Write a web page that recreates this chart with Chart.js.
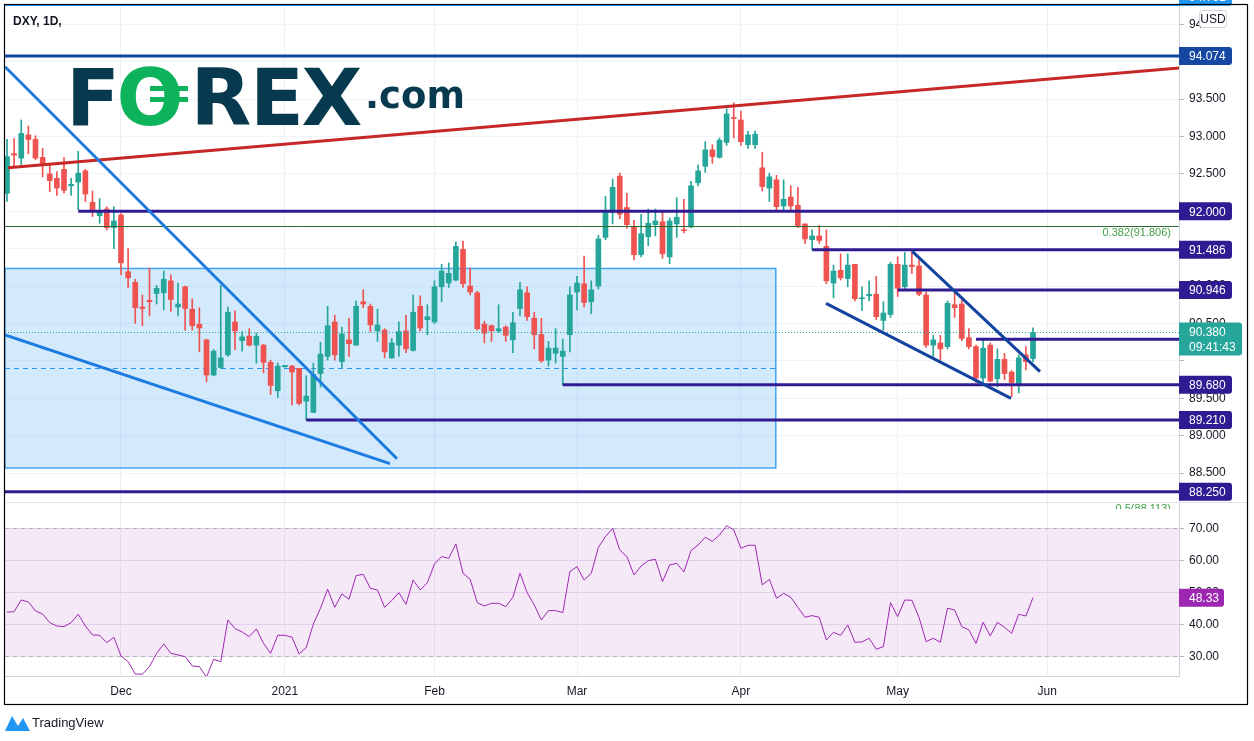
<!DOCTYPE html>
<html lang="en">
<head>
<meta charset="UTF-8">
<title>DXY, 1D</title>
<style>
  html, body { margin: 0; padding: 0; background: #fff; }
  canvas { display: block; }
</style>
</head>
<body>
<canvas id="dxy" width="1254" height="741"></canvas>

<script src="https://cdn.jsdelivr.net/npm/chart.js"></script>
<script>
// Daily candles, Nov 9 2020 .. May 28 2021 (index = trading day)
const opens = [92.24,92.77,92.71,93.02,92.96,92.72,92.50,92.44,92.56,92.34,92.39,92.54,92.12,91.94,92.03,91.78,91.95,91.19,91.05,90.72,
  90.81,90.90,90.91,91.07,90.72,90.99,90.69,90.49,90.28,89.81,89.91,90.08,90.52,90.27,90.33,90.21,90.21,89.98,89.60,89.92,
  89.93,89.90,89.46,89.31,89.83,90.06,90.52,89.99,90.28,90.21,90.79,90.73,90.40,90.41,90.04,90.21,90.40,90.14,90.73,90.55,
  90.52,90.99,91.04,91.08,91.49,91.00,90.91,90.49,90.47,90.40,90.45,90.28,90.70,90.91,90.57,90.35,90.01,90.10,90.06,90.35,
  90.92,91.03,90.79,91.00,91.65,91.98,92.47,92.05,91.79,91.42,91.66,91.82,91.86,91.39,91.83,91.75,91.79,92.38,92.60,92.82,
  92.72,92.92,93.25,93.22,92.89,92.89,92.58,92.31,92.42,92.07,92.19,92.08,91.83,91.62,91.67,91.53,91.04,91.21,91.10,91.29,
  90.83,90.87,90.89,90.54,90.62,91.29,90.99,91.28,91.27,90.88,90.21,90.24,90.19,90.75,90.76,90.31,90.19,89.77,90.21,89.76,
  90.02,89.85,89.70,90.08,90.03];
const highs = [92.96,92.97,93.22,93.14,93.01,92.84,92.62,92.53,92.72,92.44,92.80,92.56,92.27,92.17,92.06,92.06,91.97,91.50,91.09,90.88,
  91.24,91.01,91.20,91.15,91.04,91.00,90.83,90.71,90.29,90.15,91.01,90.72,90.67,90.39,90.43,90.37,90.22,90.01,89.97,89.94,
  89.94,89.90,89.80,89.97,90.25,90.73,90.61,90.45,90.57,90.80,90.95,90.76,90.69,90.43,90.30,90.52,90.61,90.88,90.87,90.75,
  91.07,91.29,91.31,91.59,91.60,91.24,90.93,90.53,90.48,90.75,90.47,90.65,91.05,90.99,90.65,90.57,90.26,90.43,90.29,90.99,
  91.13,91.40,91.07,91.68,92.20,92.43,92.51,92.24,91.88,91.96,92.03,92.03,92.00,91.91,92.18,92.16,92.40,92.62,92.93,92.89,
  92.98,93.37,93.45,93.34,93.07,93.07,92.79,92.51,92.48,92.42,92.34,92.32,91.83,91.75,91.81,91.75,91.28,91.43,91.43,91.29,
  90.99,91.07,91.13,90.79,91.32,91.39,91.45,91.46,91.35,90.92,90.34,90.34,90.80,90.91,90.81,90.43,90.21,90.28,90.24,90.16,
  90.10,89.87,90.08,90.19,90.44];
const lows = [92.13,92.60,92.62,92.77,92.69,92.46,92.26,92.21,92.24,92.21,92.02,92.13,91.93,91.84,91.75,91.50,91.15,90.98,90.50,90.47,
  90.60,90.76,90.68,90.66,90.60,90.41,90.41,90.12,89.72,89.80,89.90,90.06,90.15,90.13,90.20,89.97,89.84,89.55,89.51,89.92,
  89.41,89.41,89.21,89.31,89.65,90.01,90.01,89.91,90.06,90.21,90.71,90.39,90.26,90.04,90.03,90.06,90.11,90.13,90.40,90.35,
  90.50,90.79,90.98,91.07,90.98,90.88,90.41,90.24,90.26,90.38,90.26,90.11,90.60,90.54,90.16,89.98,89.93,89.97,89.68,90.12,
  90.68,90.72,90.63,90.96,91.62,91.83,91.90,91.77,91.35,91.39,91.54,91.67,91.37,91.30,91.65,91.71,91.78,92.34,92.52,92.64,
  92.71,92.88,92.98,92.88,92.84,92.84,92.27,92.13,91.99,92.02,92.01,91.78,91.57,91.49,91.57,91.03,90.84,91.08,90.99,90.80,
  90.67,90.80,90.55,90.41,90.58,90.86,90.96,91.17,90.87,90.18,90.06,90.01,90.16,90.58,90.27,90.16,89.71,89.71,89.72,89.65,
  89.75,89.52,89.57,89.88,89.99];
const closes = [92.73,92.75,93.04,92.96,92.71,92.63,92.41,92.31,92.28,92.36,92.51,92.23,91.99,92.00,91.78,91.87,91.31,91.11,90.71,90.70,
  90.79,90.97,91.09,90.82,90.76,90.70,90.47,90.44,89.81,90.13,90.04,90.65,90.40,90.32,90.21,90.33,89.98,89.67,89.93,89.94,
  89.85,89.43,89.53,89.82,90.09,90.47,90.08,90.36,90.23,90.73,90.76,90.48,90.48,90.12,90.24,90.39,90.16,90.65,90.44,90.59,
  90.99,91.20,91.17,91.53,91.03,90.92,90.43,90.37,90.40,90.43,90.34,90.51,90.95,90.59,90.35,90.00,90.17,90.17,90.13,90.88,
  91.04,90.78,90.95,91.63,91.98,92.32,91.96,91.82,91.42,91.70,91.84,91.87,91.43,91.87,91.92,91.74,92.34,92.54,92.82,92.73,
  92.95,93.30,93.24,92.93,93.02,93.03,92.33,92.46,92.06,92.16,92.07,91.81,91.63,91.67,91.61,91.07,91.20,91.11,91.28,90.83,
  90.84,90.89,90.59,90.64,91.29,90.97,91.28,91.26,90.89,90.21,90.28,90.16,90.77,90.71,90.30,90.19,89.77,90.17,89.73,90.02,
  89.83,89.71,90.04,89.99,90.38];

// RSI(14), one value per candle
const rsi = [43.75,43.96,47.6,46.98,44.17,43.23,40.52,39.48,39.27,40.52,43.13,39.48,36.67,36.56,34.27,35.94,30.1,28.33,24.48,24.38,
  26.77,30.94,33.85,30.94,30.42,29.9,26.98,26.77,23.5,29.06,28.33,41.35,38.65,37.6,36.15,38.54,34.06,30.94,36.56,36.56,
  35.94,30.73,32.71,40.1,45.0,50.94,45.31,49.48,47.81,55.21,55.63,51.25,50.73,45.31,47.4,49.9,46.25,53.85,50.73,53.02,
  58.85,61.15,60.63,65.1,55.94,54.06,46.77,45.73,46.56,46.56,45.52,48.44,55.94,49.9,46.04,41.35,44.27,44.27,43.65,56.46,
  58.02,53.85,55.94,64.06,67.4,70.0,63.23,61.15,55.42,58.23,59.9,60.31,53.33,58.54,59.06,56.35,63.02,64.79,67.19,65.94,
  67.92,70.83,69.48,63.75,64.69,64.69,52.29,54.06,48.13,49.69,48.44,45.31,42.19,42.71,42.19,35.1,37.5,36.56,39.79,34.38,
  34.48,35.63,32.19,33.02,46.77,42.4,47.6,47.5,42.19,34.58,35.63,34.38,45.0,44.48,39.27,38.23,34.06,40.63,36.35,40.63,
  39.06,37.19,43.13,42.6,48.33];

// time axis: index of first trading day of each month
const monthIdx = [16, 39, 60, 80, 103, 125, 146];
const monthLbl = ['Dec', '2021', 'Feb', 'Mar', 'Apr', 'May', 'Jun'];
// right axis ticks
const priceTicks = [88.5, 89.0, 89.5, 90.0, 90.5, 91.0, 91.5, 92.0, 92.5, 93.0, 93.5, 94.0, 94.5];
const rsiTicks = [30, 40, 50, 60, 70];

// drawn levels (price) and the candle index where each one starts
const levels    = [94.074, 92.000, 91.486, 90.946, 90.290, 89.680, 89.210, 88.250];
const levelFrom = [null,   10,     113,    125,    136,    78,     42,     null];
const lastPrice = 90.380;
const topLevel = 94.761;
const fibLevels = [91.806, 88.113];
const fibLbl = ['0.382(91.806)', '0.5(88.113)'];
const rsiBand = [30, 70];

// trend lines: [index, price] -> [index, price]
const redLine   = [[0.14, 92.58], [164.49, 93.914]];
const blueLines = [[[-0.28, 93.932], [54.74, 88.692]], [[-0.28, 90.345], [53.75, 88.627]]];
const wedge     = [[[127.06, 91.464], [144.98, 89.855]], [[114.95, 90.769], [140.91, 89.499]]];
// shaded range box
const boxEnd = 107.9;
const boxTop = 91.235, boxBot = 88.567, boxMid = 89.90;

const FONT = '"Liberation Sans", Arial, sans-serif';
const UP = '#26a69a', DOWN = '#ef5350';
const INDIGO = '#311b92';

const idx = opens.map((_, i) => i);
const candleCol = idx.map(i => closes[i] >= opens[i] ? UP : DOWN);

function tag(ctx, x, yc, w, h, bg, lines) {
  ctx.fillStyle = bg;
  ctx.beginPath();
  ctx.roundRect(x, yc - h / 2, w, h, [0, 3, 3, 0]);
  ctx.fill();
  ctx.fillStyle = '#fff';
  ctx.font = '12px ' + FONT;
  ctx.textAlign = 'left';
  ctx.textBaseline = 'middle';
  lines.forEach((t, k) => ctx.fillText(t, x + 10, yc - (lines.length - 1) * 7.5 + k * 15 + 1));
}

// no extra label padding, so the panes sit exactly in the chart area
function fixAxis(s, w) {
  s.width = w;
  s.paddingTop = 0;
  s.paddingBottom = 0;
}

const overlay = {
  id: 'overlay',
  beforeDatasetsDraw(chart) {
    const { ctx, chartArea: a, scales: { x, y, rsi: r } } = chart;
    ctx.save();
    // rsi band
    const b1 = r.getPixelForValue(rsiBand[1]), b0 = r.getPixelForValue(rsiBand[0]);
    ctx.fillStyle = 'rgba(156,39,176,0.10)';
    ctx.fillRect(a.left, b1, a.right - a.left, b0 - b1);
    ctx.strokeStyle = '#b2b5be';
    ctx.setLineDash([4, 4]);
    ctx.lineWidth = 1;
    [b1, b0].forEach(v => {
      ctx.beginPath(); ctx.moveTo(a.left, Math.round(v) + 0.5); ctx.lineTo(a.right, Math.round(v) + 0.5); ctx.stroke();
    });
    ctx.setLineDash([]);
    // range box
    const bx1 = x.getPixelForValue(boxEnd);
    const t = y.getPixelForValue(boxTop), bt = y.getPixelForValue(boxBot);
    ctx.fillStyle = 'rgba(33,150,243,0.2)';
    ctx.fillRect(a.left, t, bx1 - a.left, bt - t);
    ctx.strokeStyle = '#42a5f5';
    ctx.lineWidth = 1.5;
    ctx.strokeRect(a.left, t, bx1 - a.left, bt - t);
    ctx.setLineDash([5, 4]);
    ctx.lineWidth = 1;
    ctx.strokeStyle = '#2196f3';
    const m = Math.round(y.getPixelForValue(boxMid)) + 0.5;
    ctx.beginPath(); ctx.moveTo(a.left, m); ctx.lineTo(bx1, m); ctx.stroke();
    ctx.setLineDash([]);
    ctx.restore();
  },
  afterDatasetsDraw(chart) {
    const { ctx, chartArea: a, scales: { x, y } } = chart;
    const P = (p) => [x.getPixelForValue(p[0]), y.getPixelForValue(p[1])];
    ctx.save();
    ctx.beginPath();
    ctx.rect(a.left, y.top, a.right - a.left, y.bottom - y.top);
    ctx.clip();
    // fib lines
    ctx.strokeStyle = '#2e6b30';
    ctx.lineWidth = 1;
    fibLevels.forEach(v => {
      const py = Math.round(y.getPixelForValue(v)) + 0.5;
      ctx.beginPath(); ctx.moveTo(a.left, py); ctx.lineTo(a.right, py); ctx.stroke();
    });
    // last price dotted
    ctx.strokeStyle = UP;
    ctx.setLineDash([1, 2]);
    const lp = Math.round(y.getPixelForValue(lastPrice)) + 0.5;
    ctx.beginPath(); ctx.moveTo(a.left, lp); ctx.lineTo(a.right, lp); ctx.stroke();
    ctx.setLineDash([]);
    // horizontal levels
    ctx.lineWidth = 3;
    levels.forEach((v, i) => {
      const py = y.getPixelForValue(v);
      const x0 = levelFrom[i] === null ? a.left : x.getPixelForValue(levelFrom[i]);
      ctx.strokeStyle = i === 0 ? '#0d47a1' : INDIGO;
      ctx.beginPath(); ctx.moveTo(x0, py); ctx.lineTo(a.right, py); ctx.stroke();
    });
    // trend lines
    const seg = (s, col) => {
      const p0 = P(s[0]), p1 = P(s[1]);
      ctx.strokeStyle = col;
      ctx.beginPath(); ctx.moveTo(p0[0], p0[1]); ctx.lineTo(p1[0], p1[1]); ctx.stroke();
    };
    seg(redLine, '#c62828');
    blueLines.forEach(s => seg(s, '#1e7be0'));
    wedge.forEach(s => seg(s, '#1343a0'));
    ctx.restore();

    // fib labels
    ctx.save();
    ctx.beginPath();
    ctx.rect(a.left, 0, a.right - a.left, 509);
    ctx.clip();
    ctx.font = '11px ' + FONT;
    ctx.fillStyle = '#43a047';
    ctx.textAlign = 'right';
    ctx.textBaseline = 'middle';
    fibLevels.forEach((v, i) => ctx.fillText(fibLbl[i], 1171, y.getPixelForValue(v) + 7));
    ctx.restore();
  },
  afterDraw(chart) {
    const { ctx, chartArea: a, scales: { y, rsi: r } } = chart;
    ctx.save();
    // top light-blue line
    ctx.strokeStyle = '#2196f3';
    ctx.lineWidth = 2;
    ctx.beginPath(); ctx.moveTo(a.left, 5); ctx.lineTo(a.right, 5); ctx.stroke();
    // pane separator
    ctx.strokeStyle = '#e0e3eb';
    ctx.lineWidth = 1;
    ctx.beginPath(); ctx.moveTo(a.left, Math.round(y.bottom) + 0.5); ctx.lineTo(1248, Math.round(y.bottom) + 0.5); ctx.stroke();

    // price tags on the axis
    const ax = a.right;
    tag(ctx, ax, y.getPixelForValue(topLevel) - 8, 53, 18, '#2196f3', [topLevel.toFixed(3)]);
    levels.forEach((v, i) => tag(ctx, ax, y.getPixelForValue(v), 53, 18, i === 0 ? '#1547a3' : INDIGO, [v.toFixed(3)]));
    tag(ctx, ax, y.getPixelForValue(lastPrice) + 6.5, 63, 33, UP, [lastPrice.toFixed(3), '09:41:43']);
    tag(ctx, ax, r.getPixelForValue(rsi[rsi.length - 1]), 45, 18, '#9c27b0', [rsi[rsi.length - 1].toFixed(2)]);

    // USD badge
    ctx.fillStyle = '#fff';
    ctx.strokeStyle = '#d1d4dc';
    ctx.beginPath(); ctx.roundRect(1199.5, 10.5, 27, 17, 3); ctx.fill(); ctx.stroke();
    ctx.fillStyle = '#131722';
    ctx.font = '12px ' + FONT;
    ctx.textAlign = 'center'; ctx.textBaseline = 'middle';
    ctx.fillText('USD', 1213, 19.5);

    // frame
    ctx.strokeStyle = '#000';
    ctx.lineWidth = 1.2;
    ctx.strokeRect(4.5, 4.5, 1243, 700);

    // title
    ctx.fillStyle = '#131722';
    ctx.font = 'bold 12px ' + FONT;
    ctx.textAlign = 'left';
    ctx.fillText('DXY, 1D,', 13, 22);

    // FOREX.com logo
    ctx.font = 'bold 79px "DejaVu Sans", sans-serif';
    ctx.textBaseline = 'alphabetic';
    ctx.textAlign = 'center';
    ctx.fillStyle = '#083a4f';
    ctx.fillText('F', 93, 124.5);
    ctx.fillText('R', 221, 124.5);
    ctx.fillText('E', 277, 124.5);
    ctx.fillText('X', 332, 124.5);
    ctx.fillStyle = '#0db35a';
    ctx.fillText('O', 150, 124.5);
    ctx.fillRect(150, 86, 38, 5);
    ctx.fillRect(150, 97, 38, 5);
    ctx.fillStyle = '#083a4f';
    ctx.textAlign = 'left';
    ctx.font = 'bold 37px "DejaVu Sans", sans-serif';
    ctx.fillText('.com', 365, 108);

    // TradingView mark
    ctx.fillStyle = '#2196f3';
    ctx.beginPath();
    ctx.moveTo(5, 731); ctx.lineTo(12, 716); ctx.lineTo(18, 726); ctx.lineTo(23, 718); ctx.lineTo(30, 731);
    ctx.closePath(); ctx.fill();
    ctx.fillStyle = '#131722';
    ctx.font = '13px ' + FONT;
    ctx.textBaseline = 'middle';
    ctx.fillText('TradingView', 32, 723);
    ctx.restore();
  }
};

const axisFont = { size: 12, family: FONT };

new Chart(document.getElementById('dxy'), {
  type: 'bar',
  data: {
    datasets: [
      { label: 'wick', data: idx.map(i => ({ x: i, y: [lows[i], highs[i]] })), backgroundColor: candleCol,
        barThickness: 1, grouped: false, yAxisID: 'y', order: 3 },
      { label: 'body', data: idx.map(i => ({ x: i, y: [opens[i], closes[i]] })), backgroundColor: candleCol,
        barThickness: 5, grouped: false, minBarLength: 1, yAxisID: 'y', order: 2 },
      { type: 'line', label: 'RSI', data: idx.map(i => ({ x: i, y: rsi[i] })), borderColor: '#9c27b0',
        borderWidth: 1, pointRadius: 0, yAxisID: 'rsi', order: 1 }
    ]
  },
  options: {
    responsive: false,
    animation: false,
    devicePixelRatio: 1,
    layout: { padding: { left: 5, top: 5, right: 6, bottom: 37 } },
    plugins: { legend: { display: false }, tooltip: { enabled: false } },
    scales: {
      x: {
        type: 'linear', min: -0.28, max: 164.49, offset: false, bounds: 'data',
        grid: { color: '#eceff4', offset: false, drawTicks: false },
        border: { color: '#d1d4dc' },
        ticks: { autoSkip: false, maxRotation: 0, padding: 8, color: '#131722', font: axisFont,
          callback: v => { const k = monthIdx.indexOf(v); return k < 0 ? '' : monthLbl[k]; } },
        afterBuildTicks: s => { s.ticks = monthIdx.map(v => ({ value: v })); },
        afterFit: s => { s.height = 28; s.paddingLeft = 0; s.paddingRight = 0; }
      },
      y: {
        axis: 'y', position: 'right', stack: 'pane', stackWeight: 497,
        min: 88.113, max: 94.757, bounds: 'data', beginAtZero: false,
        grid: { color: '#f0f3fa', tickLength: 5, tickColor: '#b2b5be' },
        border: { color: '#d1d4dc' },
        ticks: { autoSkip: false, padding: 5, color: '#131722', font: axisFont,
          callback: v => Math.abs(v - 90) < 1e-6 ? '' : Number(v).toFixed(3) },
        afterBuildTicks: s => { s.ticks = priceTicks.map(v => ({ value: v })); },
        afterFit: s => fixAxis(s, 69)
      },
      rsi: {
        axis: 'y', position: 'right', stack: 'pane', stackWeight: 174,
        min: 23.84, max: 78.22, bounds: 'data', beginAtZero: false,
        grid: { color: '#ebe3f2', tickLength: 5, tickColor: '#b2b5be' },
        border: { color: '#d1d4dc' },
        ticks: { autoSkip: false, padding: 5, color: '#131722', font: axisFont,
          callback: v => Number(v).toFixed(2) },
        afterBuildTicks: s => { s.ticks = rsiTicks.map(v => ({ value: v })); },
        afterFit: s => fixAxis(s, 69)
      }
    }
  },
  plugins: [overlay]
});
</script>
</body>
</html>
